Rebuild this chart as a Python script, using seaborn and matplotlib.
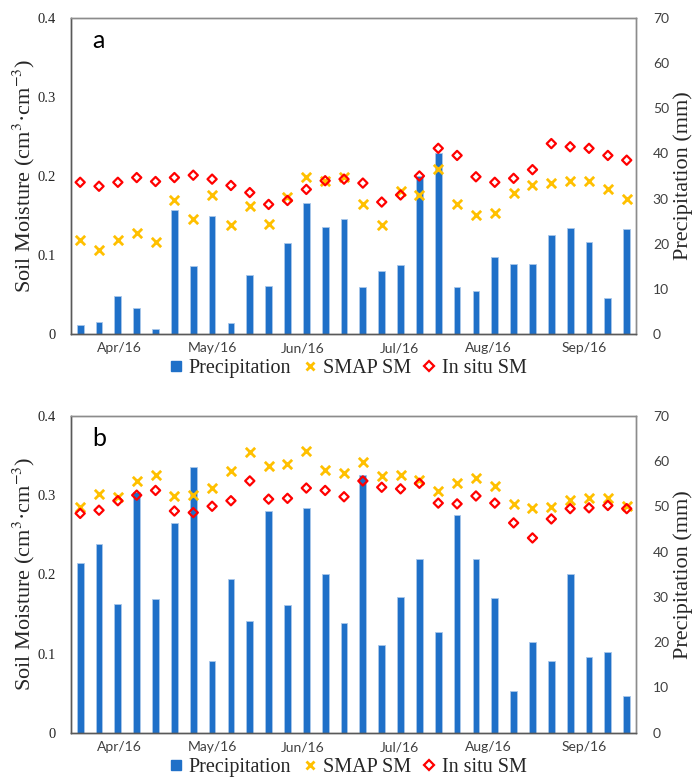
import numpy as np
import pandas as pd
import seaborn as sns
import matplotlib.pyplot as plt
from matplotlib.lines import Line2D

# month labels on the shared x axis
month_labels = ['Apr/16', 'May/16', 'Jun/16', 'Jul/16', 'Aug/16', 'Sep/16']

# panel a
precip_a = [2.1, 2.7, 8.5, 5.8, 1.2, 27.4, 15.0, 26.1, 2.4, 13.1, 10.6, 20.1, 29.1, 23.6, 25.5,
            10.5, 13.9, 15.2, 35.1, 40.2, 10.5, 9.5, 17.1, 15.4, 15.6, 21.9, 23.4, 20.4, 7.9, 23.2]
smap_a = [0.119, 0.106, 0.119, 0.128, 0.116, 0.170, 0.145, 0.176, 0.138, 0.162, 0.139, 0.173, 0.199, 0.194, 0.199,
          0.164, 0.138, 0.181, 0.176, 0.209, 0.164, 0.150, 0.153, 0.178, 0.188, 0.191, 0.194, 0.194, 0.184, 0.171]
insitu_a = [0.192, 0.187, 0.192, 0.198, 0.193, 0.198, 0.201, 0.196, 0.188, 0.179, 0.164, 0.169, 0.183, 0.194, 0.196,
            0.191, 0.167, 0.176, 0.200, 0.235, 0.226, 0.199, 0.192, 0.197, 0.208, 0.241, 0.237, 0.235, 0.226, 0.220]

# panel b
precip_b = [37.4, 41.6, 28.4, 53.1, 29.6, 46.4, 58.7, 15.8, 34.0, 24.6, 48.9, 28.2, 49.7, 35.1, 24.2,
            57.0, 19.4, 30.1, 38.5, 22.2, 48.2, 38.5, 29.7, 9.3, 20.0, 15.8, 35.1, 16.7, 17.8, 8.1]
smap_b = [0.285, 0.302, 0.298, 0.318, 0.326, 0.299, 0.300, 0.309, 0.330, 0.355, 0.337, 0.339, 0.356, 0.332, 0.328,
          0.342, 0.324, 0.325, 0.319, 0.305, 0.315, 0.322, 0.312, 0.289, 0.284, 0.285, 0.294, 0.297, 0.297, 0.286]
insitu_b = [0.277, 0.281, 0.293, 0.300, 0.306, 0.280, 0.278, 0.286, 0.293, 0.318, 0.295, 0.296, 0.309, 0.306, 0.298,
            0.318, 0.310, 0.308, 0.315, 0.290, 0.289, 0.299, 0.290, 0.265, 0.246, 0.270, 0.283, 0.284, 0.287, 0.283]

# where the month labels sit along the slot axis
month_pos = [2.1, 7.0, 11.8, 16.95, 21.65, 26.75]

BLUE = '#1f70c8'
GOLD = '#ffc000'
RED = '#ff0000'
SERIF = ['Liberation Serif', 'DejaVu Serif']
SANS = ['Lato', 'DejaVu Sans']

sns.set_theme(style='white')
plt.rcParams['font.family'] = SERIF
plt.rcParams['mathtext.fontset'] = 'stix'


def draw_panel(fig, rect, letter, precip, smap, insitu):
    n = len(precip)
    df = pd.DataFrame({'idx': np.arange(n), 'precip': precip, 'smap': smap, 'insitu': insitu})

    ax = fig.add_axes(rect)
    ax2 = ax.twinx()

    # bars on the right (precipitation) axis, drawn underneath the markers
    sns.barplot(data=df, x='idx', y='precip', ax=ax2, color=BLUE, saturation=1,
                width=0.36, edgecolor='#a9c7ea', linewidth=0.6)
    ax.set_zorder(ax2.get_zorder() + 1)
    ax.patch.set_visible(False)

    sns.scatterplot(data=df, x='idx', y='smap', ax=ax, marker='x', color=GOLD,
                    s=45, linewidth=2.0, legend=False)
    sns.scatterplot(data=df, x='idx', y='insitu', ax=ax, marker='D', facecolor='none',
                    edgecolor=RED, s=22, linewidth=1.6, legend=False)

    ax.set_xlim(-0.5, n - 0.5)
    ax.set_ylim(0, 0.4)
    ax2.set_ylim(0, 70)
    ax.set_yticks([0, 0.1, 0.2, 0.3, 0.4])
    ax.set_yticklabels(['0', '0.1', '0.2', '0.3', '0.4'], fontsize=10.5, color='#262626')
    ax2.set_yticks(np.arange(0, 71, 10))
    ax2.set_yticklabels([str(v) for v in range(0, 71, 10)], fontsize=10, color='#404040',
                        family=SANS)
    ax.set_xticks(month_pos)
    ax.set_xticklabels(month_labels, fontsize=10, color='#404040', family=SANS)

    ax.tick_params(axis='both', length=0)
    ax.tick_params(axis='y', pad=11)
    ax.tick_params(axis='x', pad=6)
    ax2.tick_params(axis='y', length=0, pad=12)

    ax.set_xlabel('')
    ax.set_ylabel('Soil Moisture (cm$^{3}$·cm$^{-3}$)', fontsize=16, color='#262626')
    ax2.set_ylabel('Precipitation (mm)', fontsize=16, color='#262626')
    ax.yaxis.set_label_coords(-0.060, 0.5)
    ax2.yaxis.set_label_coords(1.066, 0.5)

    for a in (ax, ax2):
        for side in ['top', 'right']:
            a.spines[side].set_color('#8c8c8c')
            a.spines[side].set_linewidth(1.0)
        for side in ['left', 'bottom']:
            a.spines[side].set_color('#595959')
            a.spines[side].set_linewidth(1.0)

    ax.text(0.038, 0.905, letter, transform=ax.transAxes, fontsize=18,
            family=SANS, ha='left', va='baseline', color='black')

    handles = [
        Line2D([], [], ls='', marker='s', color=BLUE, markersize=7),
        Line2D([], [], ls='', marker='x', color=GOLD, markersize=6, markeredgewidth=2),
        Line2D([], [], ls='', marker='D', markerfacecolor='none', markeredgecolor=RED,
               markersize=5, markeredgewidth=1.6),
    ]
    ax.legend(handles, ['Precipitation', 'SMAP SM', 'In situ SM'], loc='center',
              bbox_to_anchor=(0.49, -0.109), ncol=3, frameon=False, fontsize=14.5,
              handlelength=0.7, handletextpad=0.3, columnspacing=0.55, borderaxespad=0)
    return ax, ax2


fig = plt.figure(figsize=(6.95, 7.78), dpi=100)
draw_panel(fig, [0.1018, 0.5707, 0.8135, 0.4062], 'a', precip_a, smap_a, insitu_a)
draw_panel(fig, [0.1018, 0.0582, 0.8135, 0.4071], 'b', precip_b, smap_b, insitu_b)

fig.savefig('out.png', dpi=100)
